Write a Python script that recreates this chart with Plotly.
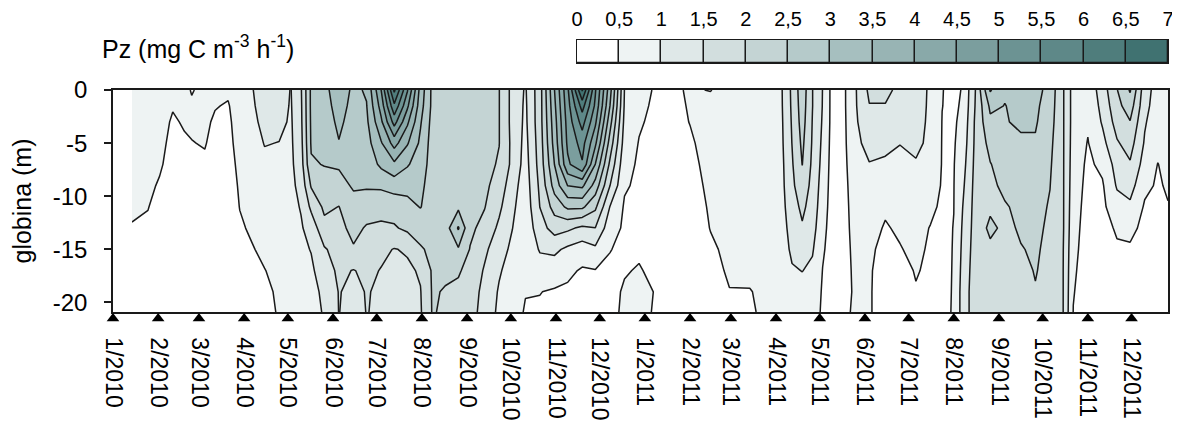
import numpy as np
import plotly.graph_objects as go

# ---------------- data ----------------
depths = [0, -1.5, -3, -5, -7, -9, -11, -13, -15, -17, -19, -20.9]

dates_2010_q1 = ["2010-01-14", "2010-01-25", "2010-02-02", "2010-02-11", "2010-02-19",
                 "2010-02-24", "2010-03-05", "2010-03-12", "2010-03-21", "2010-03-29"]
pz_2010_q1 = [
    [0.75, 0.74, 0.72, 0.70, 0.66, 0.60, 0.55, 0.48, 0.40, 0.35, 0.30, 0.30],
    [0.75, 0.74, 0.72, 0.68, 0.63, 0.58, 0.51, 0.45, 0.38, 0.33, 0.30, 0.30],
    [0.72, 0.70, 0.66, 0.60, 0.55, 0.46, 0.40, 0.35, 0.30, 0.30, 0.28, 0.28],
    [0.60, 0.53, 0.45, 0.40, 0.35, 0.30, 0.30, 0.28, 0.26, 0.25, 0.25, 0.25],
    [0.62, 0.58, 0.54, 0.45, 0.38, 0.33, 0.30, 0.28, 0.26, 0.25, 0.25, 0.25],
    [0.47, 0.56, 0.55, 0.49, 0.42, 0.35, 0.30, 0.28, 0.26, 0.25, 0.25, 0.25],
    [0.62, 0.60, 0.57, 0.52, 0.45, 0.38, 0.32, 0.28, 0.26, 0.25, 0.25, 0.25],
    [0.58, 0.52, 0.45, 0.40, 0.35, 0.30, 0.28, 0.27, 0.26, 0.25, 0.25, 0.25],
    [0.56, 0.47, 0.42, 0.38, 0.34, 0.30, 0.28, 0.27, 0.26, 0.25, 0.25, 0.25],
    [0.75, 0.72, 0.70, 0.66, 0.60, 0.55, 0.51, 0.45, 0.40, 0.35, 0.30, 0.30],
]

dates_2010_q2 = ["2010-04-06", "2010-04-15", "2010-04-25", "2010-05-03", "2010-05-10",
                 "2010-05-17", "2010-05-26", "2010-06-05", "2010-06-15", "2010-06-24"]
pz_2010_q2 = [
    [0.95, 0.90, 0.85, 0.78, 0.70, 0.65, 0.60, 0.55, 0.47, 0.40, 0.35, 0.33],
    [1.30, 1.25, 1.15, 1.02, 0.90, 0.80, 0.72, 0.65, 0.58, 0.49, 0.43, 0.40],
    [1.25, 1.20, 1.12, 0.99, 0.90, 0.82, 0.76, 0.70, 0.65, 0.60, 0.55, 0.53],
    [0.98, 0.96, 0.94, 0.92, 0.90, 0.88, 0.86, 0.82, 0.78, 0.74, 0.70, 0.68],
    [1.45, 1.42, 1.40, 1.35, 1.28, 1.15, 1.03, 0.95, 0.90, 0.85, 0.82, 0.80],
    [2.60, 2.60, 2.58, 2.55, 2.45, 2.05, 1.60, 1.20, 1.02, 0.92, 0.85, 0.80],
    [2.85, 2.80, 2.75, 2.65, 2.52, 2.30, 2.10, 1.85, 1.45, 1.25, 1.10, 1.05],
    [3.30, 3.20, 3.10, 2.98, 2.55, 2.35, 1.99, 1.85, 1.70, 1.60, 1.52, 1.51],
    [2.90, 2.85, 2.80, 2.75, 2.65, 2.55, 2.35, 2.15, 1.95, 1.48, 1.40, 1.35],
    [3.05, 2.98, 2.90, 2.80, 2.70, 2.55, 2.25, 1.95, 1.80, 1.60, 1.52, 1.51],
]

dates_2010_q3 = ["2010-07-04", "2010-07-13", "2010-07-22", "2010-07-31", "2010-08-08",
                 "2010-08-17", "2010-08-26", "2010-09-03", "2010-09-13", "2010-09-23"]
pz_2010_q3 = [
    [4.50, 4.20, 3.90, 3.45, 3.10, 2.60, 2.10, 1.95, 1.60, 1.48, 1.45, 1.45],
    [6.60, 5.90, 5.20, 4.20, 3.40, 2.70, 2.20, 1.95, 1.48, 1.40, 1.30, 1.30],
    [5.05, 4.60, 4.10, 3.55, 3.05, 2.65, 2.35, 2.10, 1.55, 1.42, 1.35, 1.30],
    [3.30, 3.20, 3.05, 2.90, 2.75, 2.60, 2.52, 2.20, 1.95, 1.55, 1.48, 1.45],
    [2.40, 2.40, 2.35, 2.30, 2.30, 2.30, 2.25, 2.20, 2.10, 2.05, 2.03, 2.02],
    [2.30, 2.30, 2.30, 2.30, 2.30, 2.30, 2.30, 2.25, 2.15, 2.05, 1.98, 1.96],
    [2.30, 2.30, 2.30, 2.30, 2.30, 2.30, 2.40, 3.05, 2.45, 2.05, 1.90, 1.85],
    [2.30, 2.30, 2.30, 2.30, 2.25, 2.20, 2.15, 2.10, 1.98, 1.85, 1.75, 1.70],
    [2.20, 2.20, 2.20, 2.20, 2.15, 2.10, 2.02, 1.85, 1.60, 1.45, 1.35, 1.30],
    [2.01, 2.01, 2.01, 2.01, 1.95, 1.80, 1.60, 1.40, 1.20, 1.05, 0.95, 0.90],
]

dates_2010_q4 = ["2010-10-02", "2010-10-11", "2010-10-21", "2010-10-31", "2010-11-09",
                 "2010-11-19", "2010-11-28", "2010-12-08", "2010-12-18", "2010-12-28"]
pz_2010_q4 = [
    [1.35, 1.35, 1.35, 1.38, 1.38, 1.20, 1.10, 1.01, 0.90, 0.80, 0.70, 0.60],
    [0.95, 0.92, 0.90, 0.85, 0.80, 0.75, 0.70, 0.65, 0.60, 0.55, 0.51, 0.48],
    [1.80, 1.80, 1.80, 1.75, 1.70, 1.60, 1.51, 1.30, 1.05, 0.75, 0.51, 0.45],
    [3.50, 3.40, 3.30, 3.20, 3.01, 2.70, 2.20, 1.70, 1.10, 0.75, 0.45, 0.40],
    [4.90, 4.80, 4.70, 4.60, 4.40, 3.51, 2.60, 1.60, 0.90, 0.60, 0.42, 0.38],
    [7.05, 6.20, 5.70, 5.20, 4.95, 3.60, 2.60, 1.40, 0.75, 0.45, 0.40, 0.40],
    [5.05, 4.90, 4.60, 4.10, 3.49, 2.80, 2.10, 1.49, 0.90, 0.48, 0.42, 0.40],
    [3.20, 3.01, 2.70, 2.30, 1.90, 1.51, 0.99, 0.70, 0.51, 0.45, 0.42, 0.42],
    [0.99, 0.95, 0.88, 0.78, 0.65, 0.55, 0.45, 0.43, 0.44, 0.48, 0.53, 0.55],
    [0.70, 0.62, 0.55, 0.48, 0.44, 0.42, 0.42, 0.43, 0.46, 0.52, 0.58, 0.60],
]

dates_2011_q1 = ["2011-01-08", "2011-01-18", "2011-02-01", "2011-02-15", "2011-02-28",
                 "2011-03-14", "2011-03-27"]
pz_2011_q1 = [
    [0.45, 0.42, 0.40, 0.38, 0.36, 0.35, 0.35, 0.36, 0.40, 0.44, 0.49, 0.47],
    [0.40, 0.38, 0.36, 0.34, 0.32, 0.30, 0.30, 0.30, 0.30, 0.32, 0.35, 0.35],
    [0.55, 0.53, 0.51, 0.45, 0.40, 0.36, 0.33, 0.30, 0.30, 0.30, 0.30, 0.30],
    [0.48, 0.70, 0.68, 0.65, 0.62, 0.58, 0.54, 0.51, 0.45, 0.40, 0.36, 0.35],
    [0.75, 0.75, 0.74, 0.72, 0.70, 0.67, 0.64, 0.60, 0.57, 0.54, 0.49, 0.48],
    [0.80, 0.80, 0.78, 0.76, 0.73, 0.70, 0.67, 0.63, 0.60, 0.55, 0.49, 0.48],
    [0.85, 0.85, 0.83, 0.80, 0.78, 0.75, 0.72, 0.68, 0.64, 0.60, 0.56, 0.54],
]

dates_2011_q2 = ["2011-04-05", "2011-04-12", "2011-04-19", "2011-04-26", "2011-05-03",
                 "2011-05-09", "2011-05-18", "2011-05-26", "2011-06-04", "2011-06-15",
                 "2011-06-25"]
pz_2011_q2 = [
    [0.98, 0.97, 0.95, 0.93, 0.90, 0.88, 0.85, 0.80, 0.75, 0.70, 0.65, 0.62],
    [1.60, 1.58, 1.55, 1.51, 1.45, 1.40, 1.30, 1.20, 1.10, 0.95, 0.80, 0.75],
    [2.30, 2.25, 2.20, 2.10, 2.01, 1.80, 1.60, 1.45, 1.25, 1.01, 0.85, 0.80],
    [1.51, 1.51, 1.48, 1.45, 1.40, 1.35, 1.30, 1.20, 1.05, 0.90, 0.80, 0.75],
    [0.99, 0.98, 0.95, 0.90, 0.85, 0.78, 0.70, 0.62, 0.55, 0.49, 0.45, 0.42],
    [0.40, 0.40, 0.40, 0.38, 0.36, 0.35, 0.35, 0.35, 0.35, 0.36, 0.38, 0.40],
    [0.45, 0.45, 0.44, 0.43, 0.42, 0.41, 0.40, 0.40, 0.40, 0.42, 0.45, 0.48],
    [0.99, 0.98, 0.95, 0.90, 0.80, 0.72, 0.68, 0.64, 0.60, 0.56, 0.53, 0.52],
    [1.60, 1.48, 1.35, 1.15, 0.98, 0.85, 0.75, 0.62, 0.55, 0.53, 0.53, 0.53],
    [1.60, 1.48, 1.30, 1.08, 0.95, 0.80, 0.55, 0.47, 0.42, 0.38, 0.35, 0.35],
    [1.40, 1.35, 1.25, 1.01, 0.90, 0.75, 0.62, 0.55, 0.48, 0.40, 0.36, 0.35],
]

dates_2011_q3 = ["2011-07-06", "2011-07-16", "2011-07-24", "2011-08-01", "2011-08-07",
                 "2011-08-16", "2011-08-26", "2011-09-05", "2011-09-16", "2011-09-26"]
pz_2011_q3 = [
    [1.30, 1.25, 1.15, 1.05, 0.98, 0.85, 0.75, 0.65, 0.58, 0.52, 0.48, 0.46],
    [0.90, 0.90, 0.92, 0.95, 0.98, 0.80, 0.60, 0.48, 0.45, 0.45, 0.44, 0.44],
    [0.51, 0.505, 0.49, 0.48, 0.47, 0.45, 0.42, 0.40, 0.38, 0.36, 0.35, 0.35],
    [0.42, 0.42, 0.44, 0.46, 0.48, 0.49, 0.495, 0.51, 0.52, 0.53, 0.54, 0.55],
    [0.52, 0.56, 0.62, 0.70, 0.80, 0.90, 0.99, 1.05, 1.10, 1.15, 1.20, 1.20],
    [1.52, 1.55, 1.60, 1.62, 1.65, 1.68, 1.70, 1.72, 1.75, 1.78, 1.80, 1.80],
    [3.05, 2.60, 2.40, 2.15, 1.98, 1.90, 1.92, 2.10, 1.90, 1.80, 1.78, 1.75],
    [2.55, 2.49, 2.48, 2.30, 2.20, 2.10, 1.96, 1.90, 1.85, 1.80, 1.78, 1.75],
    [2.70, 2.60, 2.55, 2.45, 2.30, 2.20, 2.10, 2.05, 1.98, 1.90, 1.85, 1.80],
    [2.70, 2.60, 2.55, 2.45, 2.35, 2.25, 2.15, 2.10, 2.05, 2.02, 1.98, 1.95],
]

dates_2011_q4 = ["2011-10-06", "2011-10-15", "2011-10-22", "2011-11-01", "2011-11-11",
                 "2011-11-21", "2011-11-30", "2011-12-10", "2011-12-19", "2011-12-26"]
pz_2011_q4 = [
    [2.30, 2.25, 2.20, 2.12, 2.06, 2.01, 1.96, 1.92, 1.90, 1.88, 1.85, 1.85],
    [1.55, 1.55, 1.55, 1.55, 1.55, 1.55, 1.55, 1.55, 1.52, 1.51, 1.51, 1.51],
    [0.80, 0.80, 0.80, 0.78, 0.75, 0.72, 0.68, 0.64, 0.60, 0.56, 0.52, 0.49],
    [0.65, 0.60, 0.55, 0.48, 0.42, 0.38, 0.35, 0.33, 0.32, 0.30, 0.30, 0.30],
    [1.25, 1.15, 1.05, 0.85, 0.60, 0.45, 0.40, 0.36, 0.33, 0.30, 0.30, 0.30],
    [1.98, 1.85, 1.70, 1.45, 1.20, 1.05, 0.80, 0.55, 0.45, 0.40, 0.38, 0.36],
    [2.55, 2.25, 1.98, 1.70, 1.45, 1.20, 0.90, 0.60, 0.45, 0.40, 0.38, 0.36],
    [1.20, 1.15, 1.05, 0.95, 0.80, 0.60, 0.45, 0.40, 0.38, 0.36, 0.35, 0.35],
    [0.80, 0.75, 0.70, 0.62, 0.49, 0.45, 0.40, 0.38, 0.36, 0.35, 0.35, 0.35],
    [0.80, 0.78, 0.75, 0.70, 0.62, 0.55, 0.48, 0.42, 0.38, 0.36, 0.35, 0.35],
]

month_ticks = ["2010-01-01", "2010-02-01", "2010-03-01", "2010-04-01", "2010-05-01",
               "2010-06-01", "2010-07-01", "2010-08-01", "2010-09-01", "2010-10-01",
               "2010-11-01", "2010-12-01", "2011-01-01", "2011-02-01", "2011-03-01",
               "2011-04-01", "2011-05-01", "2011-06-01", "2011-07-01", "2011-08-01",
               "2011-09-01", "2011-10-01", "2011-11-01", "2011-12-01"]
month_labels = ["1/2010", "2/2010", "3/2010", "4/2010", "5/2010", "6/2010", "7/2010",
                "8/2010", "9/2010", "10/2010", "11/2010", "12/2010", "1/2011", "2/2011",
                "3/2011", "4/2011", "5/2011", "6/2011", "7/2011", "8/2011", "9/2011",
                "10/2011", "11/2011", "12/2011"]

depth_ticks = [0, -5, -10, -15, -20]
depth_labels = ["0", "-5", "-10", "-15", "-20"]

level_ticks = [0, 0.5, 1, 1.5, 2, 2.5, 3, 3.5, 4, 4.5, 5, 5.5, 6, 6.5, 7]
level_labels = ["0", "0,5", "1", "1,5", "2", "2,5", "3", "3,5", "4", "4,5", "5",
                "5,5", "6", "6,5", "7"]
band_colors = ["#ffffff", "#eef3f3", "#dfe8e8", "#d2dede", "#c4d4d4", "#b5caca",
               "#a6bfbf", "#98b4b4", "#89a9a9", "#7b9e9e", "#6c9393", "#5e8888",
               "#4f7d7c", "#407271"]

# ---------------- assemble ----------------
dates = (dates_2010_q1 + dates_2010_q2 + dates_2010_q3 + dates_2010_q4 +
         dates_2011_q1 + dates_2011_q2 + dates_2011_q3 + dates_2011_q4)
profiles = (pz_2010_q1 + pz_2010_q2 + pz_2010_q3 + pz_2010_q4 +
            pz_2011_q1 + pz_2011_q2 + pz_2011_q3 + pz_2011_q4)

z = np.array(profiles, dtype=float).T      # rows = depths
y = np.array(depths, dtype=float)
order = np.argsort(y)
y = y[order]
z = z[order, :]

n_lev = len(level_ticks)                   # 15 levels -> contour colormap domain
colorscale = [[0.0, "#ffffff"]]
for i, c in enumerate(band_colors):
    colorscale.append([(i + 1) / n_lev, c])
colorscale.append([1.0, band_colors[-1]])

band_lo = np.array(level_ticks[:-1])
band_hi = np.array(level_ticks[1:])
band_mid = (band_lo + band_hi) / 2
band_w = band_hi - band_lo

FONT = "Liberation Sans, Arial, Helvetica, sans-serif"
# the page body adds an 8 px margin, so the figure is laid out in page pixels minus 8
OFF = 8
W, H = 1180 - OFF, 423 - OFF
ML, MR, MT, MB = 113 - OFF, 1180 - 1168, 12, 423 - 324
plot_w = W - ML - MR
plot_h = H - MT - MB


def py(page_y):     # page pixel row -> paper y
    return (H - MB - (page_y - OFF)) / plot_h


def px(page_x):     # page pixel column -> paper x
    return (page_x - OFF - ML) / plot_w


LINE = "#1a1a1a"

fig = go.Figure()
fig.add_trace(go.Contour(
    x=dates, y=y, z=z,
    autocontour=False,
    contours=dict(start=level_ticks[0], end=level_ticks[-1], size=0.5,
                  coloring="fill", showlines=True),
    line=dict(color=LINE, width=1.5, smoothing=0),
    colorscale=colorscale, showscale=False,
    hoverinfo="skip",
    xaxis="x", yaxis="y",
))

# month markers in a thin strip just under the main axis
fig.add_trace(go.Scatter(
    x=month_ticks, y=[0.45] * len(month_ticks),
    mode="markers",
    marker=dict(symbol="triangle-up", size=11, color="black"),
    cliponaxis=False, showlegend=False, hoverinfo="skip",
    xaxis="x", yaxis="y3",
))

# colour key (bars on their own small axes)
fig.add_trace(go.Bar(
    x=band_mid, y=[1] * len(band_mid), width=band_w,
    marker=dict(color=band_colors, line=dict(color=LINE, width=1.3)),
    cliponaxis=False, showlegend=False, hoverinfo="skip",
    xaxis="x2", yaxis="y2",
))

fig.add_annotation(
    text="Pz (mg C m<sup>-3</sup> h<sup>-1</sup>)",
    xref="paper", yref="paper", x=px(100), y=py(47),
    xanchor="left", yanchor="middle", showarrow=False,
    font=dict(family=FONT, size=25, color="black"),
)

fig.update_layout(
    width=W, height=H,
    margin=dict(l=ML, r=MR, t=MT, b=MB, autoexpand=False),
    paper_bgcolor="white", plot_bgcolor="white",
    font=dict(family=FONT, size=22, color="black"),
    separators=", ",
    showlegend=False,
    bargap=0,
    xaxis=dict(
        domain=[0, 1], anchor="y",
        type="date", range=["2010-01-01", "2011-12-26"],
        tickmode="array", tickvals=month_ticks, ticktext=month_labels,
        tickangle=90, ticks="", ticklabelstandoff=19,
        tickfont=dict(family=FONT, size=23, color="black"),
        showline=True, linecolor=LINE, linewidth=1.5, mirror=True,
        showgrid=False, zeroline=False, automargin=False,
    ),
    yaxis=dict(
        domain=[py(312), py(90)], anchor="x",
        range=[-20.9, 0],
        tickmode="array", tickvals=depth_ticks, ticktext=depth_labels,
        ticks="outside", ticklen=7, tickwidth=1.5, tickcolor=LINE,
        ticklabelstandoff=12,
        tickfont=dict(family=FONT, size=24, color="black"),
        showline=True, linecolor=LINE, linewidth=1.5, mirror=True,
        showgrid=False, zeroline=False, automargin=False,
        title=dict(text="globina (m)", font=dict(family=FONT, size=25, color="black"),
                   standoff=17),
    ),
    yaxis3=dict(
        domain=[0, py(312)], anchor="free", position=0,
        range=[0, 1], visible=False, fixedrange=True,
    ),
    xaxis2=dict(
        domain=[px(577), px(1168)], anchor="y2",
        range=[level_ticks[0], level_ticks[-1]],
        side="top", tickmode="array", tickvals=level_ticks, ticktext=level_labels,
        ticks="", ticklabelstandoff=5,
        tickfont=dict(family=FONT, size=20, color="black"),
        showline=True, mirror=True, linecolor=LINE, linewidth=1.3,
        showgrid=False, zeroline=False, fixedrange=True,
    ),
    yaxis2=dict(
        domain=[py(63), py(40)], anchor="x2",
        range=[0, 1], showticklabels=False, ticks="",
        showline=True, mirror=True, linecolor=LINE, linewidth=1.3,
        showgrid=False, zeroline=False, fixedrange=True,
    ),
)

fig.write_html("out.html")
